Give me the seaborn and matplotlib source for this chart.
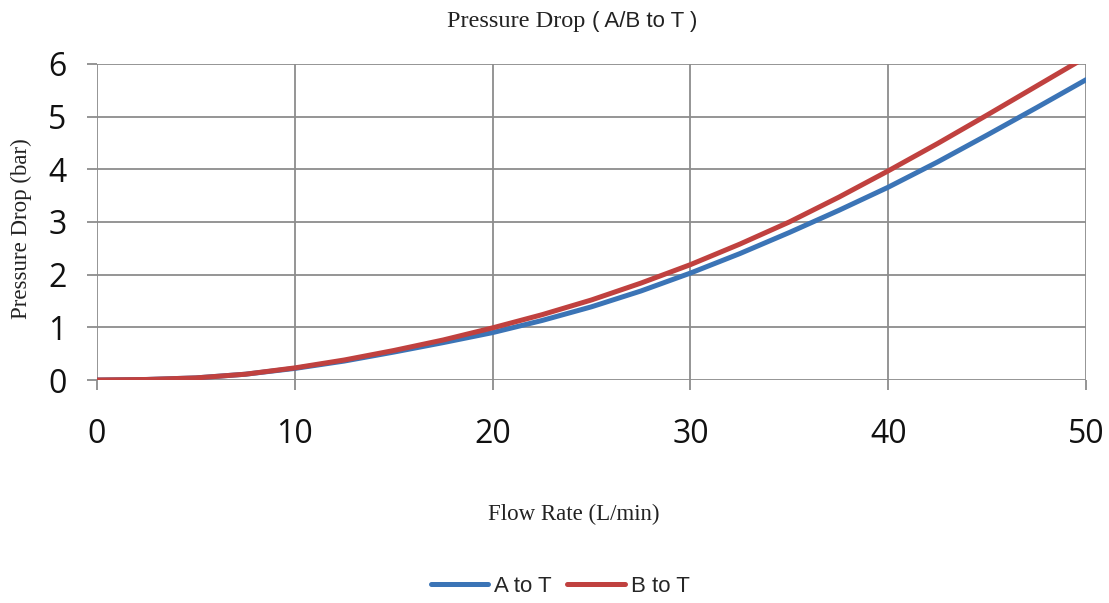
import matplotlib
matplotlib.use("Agg")
import matplotlib.pyplot as plt
import seaborn as sns
import pandas as pd

# Flow rate (L/min) and pressure drop (bar) for each path
flow = [0, 2.5, 5, 7.5, 10, 12.5, 15, 17.5, 20, 22.5, 25,
        27.5, 30, 32.5, 35, 37.5, 40, 42.5, 45, 47.5, 50]
a_to_t = [0.00, 0.01, 0.04, 0.11, 0.22, 0.36, 0.53, 0.71, 0.90, 1.13, 1.39,
          1.69, 2.03, 2.40, 2.80, 3.22, 3.66, 4.14, 4.65, 5.17, 5.70]
b_to_t = [0.00, 0.01, 0.04, 0.11, 0.23, 0.38, 0.56, 0.76, 0.99, 1.24, 1.52,
          1.84, 2.19, 2.58, 3.00, 3.47, 3.97, 4.49, 5.03, 5.58, 6.13]
series_names = ["A to T", "B to T"]
colors = ["#3B74B6", "#C0413F"]

df = pd.DataFrame({
    "flow": flow * 2,
    "dp": a_to_t + b_to_t,
    "series": [series_names[0]] * len(flow) + [series_names[1]] * len(flow),
})

sns.set_theme(style="white")
fig = plt.figure(figsize=(11.09, 6.03), dpi=100)
ax = fig.add_axes([0.0875, 0.3698, 0.8918, 0.5242])

sns.lineplot(data=df, x="flow", y="dp", hue="series", hue_order=series_names,
             palette=colors, linewidth=3.6, ax=ax, legend=False)

ax.set_xlim(0, 50)
ax.set_ylim(0, 6)
ax.set_xticks(range(0, 51, 10))
ax.set_yticks(range(0, 7))

grid_c = "#8C8C8C"
ax.grid(True, color=grid_c, linewidth=1.3)
ax.set_axisbelow(True)
for s in ax.spines.values():
    s.set_visible(False)
ax.tick_params(axis="both", which="both", length=7, width=1.3, color=grid_c,
               direction="out", bottom=True, left=True)
ax.tick_params(axis="x", pad=20)
ax.tick_params(axis="y", pad=15)

for lab in ax.get_xticklabels() + ax.get_yticklabels():
    lab.set_fontfamily("Open Sans")
    lab.set_fontsize(23)
    lab.set_color("#111111")

ax.set_xlabel("Flow Rate (L/min)", fontfamily="Liberation Serif", fontsize=16.5,
              color="#222222")
ax.xaxis.label.set_va("center")
ax.xaxis.set_label_coords(0.482, -0.424)

ax.set_ylabel("Pressure Drop (bar)", fontfamily="Liberation Serif", fontsize=16.5,
              color="#222222")
ax.yaxis.label.set_va("center")
ax.yaxis.set_label_coords(-0.0768, 0.48)

# Title: serif text followed by a sans-serif bracketed part
fig.text(0.5275, 0.965, "Pressure Drop", fontfamily="Liberation Serif",
         fontsize=17.5, ha="right", va="center", color="#222222")
fig.text(0.534, 0.965, "( A/B to T )", fontfamily="Liberation Sans",
         fontsize=16, ha="left", va="center", color="#222222")

# Legend below the axes
handles = [plt.Line2D([0], [0], color=c, linewidth=3.6, solid_capstyle="round")
           for c in colors]
fig.legend(handles, series_names, loc="center", bbox_to_anchor=(0.505, 0.028),
           ncol=2, frameon=False, handlelength=2.6, handletextpad=0.25,
           columnspacing=0.7, prop={"family": "Liberation Sans", "size": 16})

fig.savefig("out.png", dpi=100, facecolor="white")
